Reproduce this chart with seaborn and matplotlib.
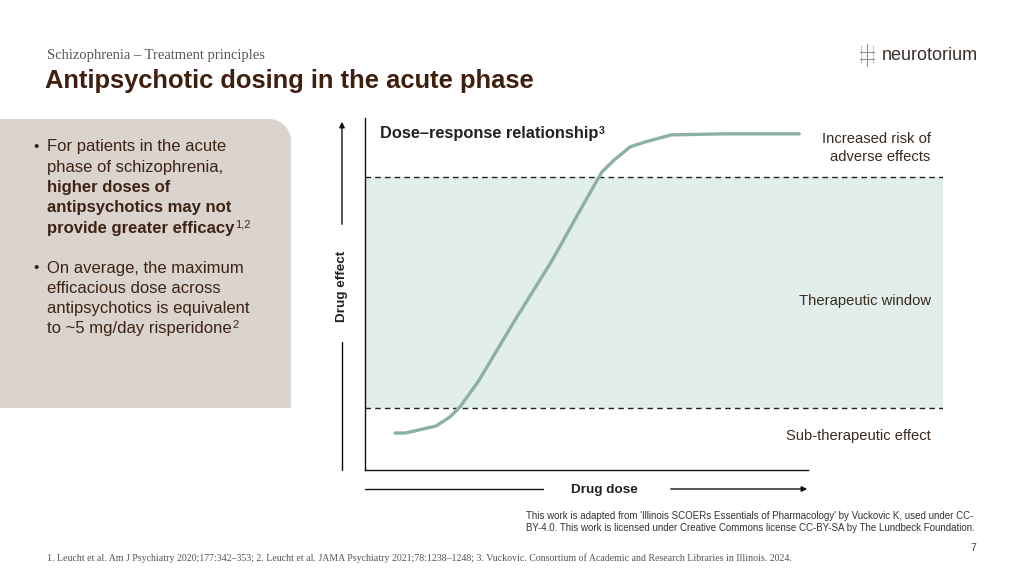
import matplotlib
matplotlib.use("Agg")
import matplotlib.pyplot as plt
import numpy as np
import pandas as pd
import seaborn as sns
from matplotlib.patches import Polygon

# 数据：剂量-反应曲线
dose = [0.68, 0.91, 1.61, 1.93, 2.15, 2.56, 3.40, 4.22, 4.88, 5.37, 5.65, 6.01, 6.35, 6.94, 8.14, 9.84]
effect = [10.5, 10.5, 12.5, 15.1, 17.9, 25.0, 42.6, 59.1, 73.9, 84.7, 88.1, 91.8, 93.2, 95.2, 95.5, 95.5]
window_low = 17.6
window_high = 83.2

zone_labels = ["Increased risk of\nadverse effects", "Therapeutic window", "Sub-therapeutic effect"]
zone_y = [91.5, 48.0, 9.7]

bullets = [
    [("For patients in the acute", "normal"),
     ("phase of schizophrenia,", "normal"),
     ("higher doses of", "bold"),
     ("antipsychotics may not", "bold"),
     ("provide greater efficacy", "bold")],
    [("On average, the maximum", "normal"),
     ("efficacious dose across", "normal"),
     ("antipsychotics is equivalent", "normal"),
     ("to ~5 mg/day risperidone", "normal")],
]
bullet_refs = ["1,2", "2"]

brown = "#3d2314"
sans = ["Liberation Sans", "DejaVu Sans"]
serif = ["Liberation Serif", "DejaVu Serif"]

sns.set_theme(style="white")
plt.rcParams["font.family"] = sans

W, H = 1024, 576
fig = plt.figure(figsize=(W / 100, H / 100), dpi=100)


def fx(px):
    return px / W


def fy(py):
    return 1 - py / H


# 图表坐标轴（先建好，注释都挂在它上面）
ax = fig.add_axes([fx(365), fy(470), fx(943) - fx(365), fy(118) - fy(470)])

# ---------------- 标题 ----------------
fig.text(fx(47), fy(56), "Schizophrenia \u2013 Treatment principles", family=serif,
         fontsize=10.5, color="#555555", va="center")
fig.text(fx(45), fy(81), "Antipsychotic dosing in the acute phase", fontsize=18.4,
         fontweight="bold", color="#3f1f0e", va="center")
fig.text(fx(882), fy(55), "neurotorium", fontsize=13, color="#3a302a", va="center")
# 简单的图标
for dx in (-1, 1):
    fig.add_artist(plt.Line2D([fx(867 + dx * 6), fx(867 + dx * 6)], [fy(46), fy(64)],
                              color="#9a8f88", lw=0.8, ls=(0, (1, 1))))
fig.add_artist(plt.Line2D([fx(867), fx(867)], [fy(44), fy(66)], color="#9a8f88", lw=0.8))
fig.add_artist(plt.Line2D([fx(860), fx(874)], [fy(52), fy(52)], color="#9a8f88", lw=0.8))
fig.add_artist(plt.Line2D([fx(860), fx(874)], [fy(59), fy(59)], color="#9a8f88", lw=0.8))

# ---------------- 左侧面板 ----------------
r = 22
ang = np.linspace(np.pi / 2, 0, 20)
pts = [(0, 408), (0, 119), (291 - r, 119)]
pts += [(291 - r + r * np.cos(a), 119 + r - r * np.sin(a)) for a in ang]
pts += [(291, 408)]
pts = [(fx(x), fy(y)) for x, y in pts]
fig.add_artist(Polygon(pts, closed=True, facecolor="#dad3ce", edgecolor="none",
                       transform=fig.transFigure, zorder=0))

starts = [147, 268]
for block, y0, ref in zip(bullets, starts, bullet_refs):
    fig.text(fx(33), fy(y0), "\u2022", fontsize=11, color=brown, va="center")
    last = None
    for i, (line, wt) in enumerate(block):
        last = fig.text(fx(47), fy(y0 + i * 20.3), line, fontsize=12, fontweight=wt,
                        color=brown, va="center")
    ax.annotate(ref, xy=(1, 1), xycoords=last, xytext=(0.5, 1), textcoords="offset points",
                fontsize=8, color=brown, va="top", ha="left")

# ---------------- 图表 ----------------
ax.set_xlim(0, 13.1)
ax.set_ylim(0, 100)
ax.axhspan(window_low, window_high, color="#e1eeeb", lw=0, zorder=0)
ax.axhline(window_high, color="#222222", lw=1, ls=(0, (4, 3)))
ax.axhline(window_low, color="#222222", lw=1, ls=(0, (4, 3)))

df = pd.DataFrame({"dose": dose, "effect": effect})
sns.lineplot(data=df, x="dose", y="effect", sort=False, color="#8db0a5", lw=2.4, ax=ax)

for s in ["top", "right"]:
    ax.spines[s].set_visible(False)
ax.spines["left"].set_color("#111111")
ax.spines["bottom"].set_color("#111111")
ax.spines["left"].set_linewidth(1)
ax.spines["bottom"].set_linewidth(1)
ax.spines["bottom"].set_bounds(0, 10.05)
ax.set_xticks([])
ax.set_yticks([])
ax.set_xlabel("")
ax.set_ylabel("")
ax.patch.set_alpha(0)

t = ax.text(0.33, 95.5, "Dose\u2013response relationship", fontsize=11.8, fontweight="bold",
            color="#222222", va="center")
ax.annotate("3", xy=(1, 1), xycoords=t, xytext=(0.5, 0), textcoords="offset points",
            fontsize=7.5, fontweight="bold", color="#222222", va="top")

for lab, yy in zip(zone_labels, zone_y):
    ax.text(12.82, yy, lab, fontsize=10.6, color="#3a2a20", ha="right", va="center",
            linespacing=1.3)

# 坐标轴箭头
fig.add_artist(plt.Line2D([fx(342), fx(342)], [fy(470), fy(342)], color="#111111", lw=1))
fig.text(fx(342), fy(286), "Drug effect", rotation=90, fontsize=9.7, fontweight="bold",
         color="#222222", ha="center", va="center")
ax.annotate("", xy=(fx(342), fy(119)), xytext=(fx(342), fy(227)), xycoords="figure fraction",
            arrowprops=dict(arrowstyle="-|>", color="#111111", lw=1, mutation_scale=8))

fig.add_artist(plt.Line2D([fx(365), fx(543)], [fy(489), fy(489)], color="#111111", lw=1))
fig.text(fx(604), fy(490), "Drug dose", fontsize=9.7, fontweight="bold", color="#222222",
         ha="center", va="center")
ax.annotate("", xy=(fx(810), fy(489)), xytext=(fx(668), fy(489)), xycoords="figure fraction",
            arrowprops=dict(arrowstyle="-|>", color="#111111", lw=1, mutation_scale=8))

# ---------------- 脚注 ----------------
fig.text(fx(526), fy(522),
         "This work is adapted from 'Illinois SCOERs Essentials of Pharmacology' by Vuckovic K, used under CC-\n"
         "BY-4.0. This work is licensed under Creative Commons license CC-BY-SA by The Lundbeck Foundation.",
         fontsize=7, color="#333333", va="center", linespacing=1.2)
fig.text(fx(970), fy(548), "7", fontsize=7.5, color="#444444", va="center")
fig.text(fx(47), fy(558),
         "1. Leucht et al. Am J Psychiatry 2020;177:342\u2013353; 2. Leucht et al. JAMA Psychiatry 2021;78:1238\u20131248; "
         "3. Vuckovic. Consortium of Academic and Research Libraries in Illinois. 2024.",
         family=serif, fontsize=7.15, color="#555555", va="center")

fig.savefig("out.png", dpi=100)
